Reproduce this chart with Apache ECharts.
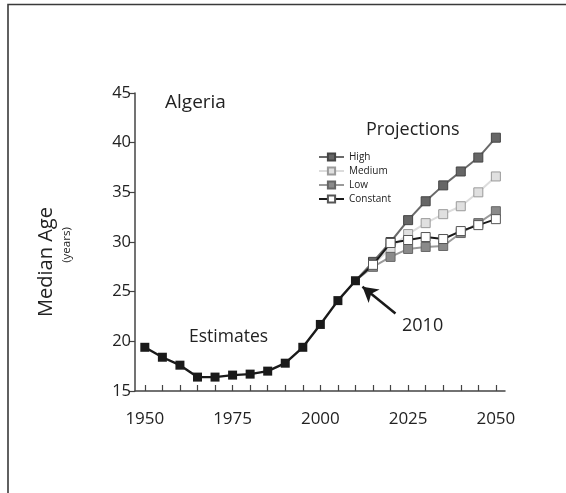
<!DOCTYPE html>
<html>
<head>
<meta charset="utf-8">
<script src="https://cdn.jsdelivr.net/npm/echarts@6/dist/echarts.min.js"></script>
<style>
  html, body { margin: 0; padding: 0; background: #fff; }
  #chart { width: 566px; height: 493px; }
</style>
</head>
<body>
<div id="chart"></div>
<script>
// Median age of Algeria: estimates 1950-2010 and four projection variants to 2050
const estYears = [1950, 1955, 1960, 1965, 1970, 1975, 1980, 1985, 1990, 1995, 2000, 2005, 2010];
const estimates = [19.4, 18.4, 17.6, 16.4, 16.4, 16.6, 16.7, 17.0, 17.8, 19.4, 21.7, 24.1, 26.1];

const projYears = [2015, 2020, 2025, 2030, 2035, 2040, 2045, 2050];
const high     = [28.0, 30.0, 32.2, 34.1, 35.7, 37.1, 38.5, 40.5];
const medium   = [27.7, 29.4, 30.8, 31.9, 32.8, 33.6, 35.0, 36.6];
const low      = [27.5, 28.5, 29.3, 29.5, 29.6, 30.9, 31.9, 33.1];
const constant = [27.7, 29.9, 30.2, 30.5, 30.3, 31.1, 31.7, 32.3];

const xTickYears = [1950, 1955, 1960, 1965, 1970, 1975, 1980, 1985, 1990, 1995, 2000,
                    2005, 2010, 2015, 2020, 2025, 2030, 2035, 2040, 2045, 2050];
const xLabelYears = [1950, 1975, 2000, 2025, 2050];

const FONT = '"Open Sans", "DejaVu Sans", sans-serif';
const baseYear = estYears[estYears.length - 1];
const baseValue = estimates[estimates.length - 1];

// each projection line starts at the last estimate, without a marker there
function projData(values) {
  const out = [{ value: [baseYear, baseValue], symbolSize: 0 }];
  projYears.forEach((y, i) => out.push([y, values[i]]));
  return out;
}

function projSeries(name, values, lineColor, fill, border, z) {
  return {
    name: name,
    type: 'line',
    data: projData(values),
    symbol: 'rect',
    symbolSize: 9,
    z: z,
    lineStyle: { color: lineColor, width: 2 },
    itemStyle: { color: fill, borderColor: border, borderWidth: 1 }
  };
}

const chart = echarts.init(document.getElementById('chart'), null, { renderer: 'canvas' });

chart.setOption({
  animation: false,
  backgroundColor: '#fff',
  grid: { left: 135, right: 61, top: 93, bottom: 102, containLabel: false },
  xAxis: {
    type: 'value',
    min: 1947.2,
    max: 2052.6,
    splitLine: { show: false },
    axisLine: { lineStyle: { color: '#444', width: 1.5 } },
    axisTick: {
      customValues: xTickYears,
      inside: true,
      length: 6,
      lineStyle: { color: '#444', width: 1.2 }
    },
    axisLabel: {
      customValues: xLabelYears,
      margin: 20,
      fontSize: 17,
      color: '#222',
      fontFamily: FONT,
      formatter: v => String(v)
    }
  },
  yAxis: {
    type: 'value',
    min: 15,
    max: 45,
    interval: 5,
    splitLine: { show: false },
    axisLine: { show: true, lineStyle: { color: '#444', width: 1.5 } },
    axisTick: { show: true, length: 6, lineStyle: { color: '#444', width: 1.2 } },
    axisLabel: { margin: 4, fontSize: 16.5, color: '#222', fontFamily: FONT }
  },
  legend: {
    orient: 'vertical',
    left: 318,
    top: 152,
    padding: 0,
    itemWidth: 25,
    itemHeight: 9,
    itemGap: 4,
    data: ['High', 'Medium', 'Low', 'Constant'],
    textStyle: { fontSize: 10, lineHeight: 9, color: '#222', fontFamily: FONT }
  },
  series: [
    projSeries('Medium', medium, '#dcdcdc', '#e0e0e0', '#9a9a9a', 2),
    projSeries('Low', low, '#9a9a9a', '#8a8a8a', '#666', 3),
    projSeries('High', high, '#6a6a6a', '#666', '#444', 4),
    projSeries('Constant', constant, '#1a1a1a', '#fff', '#555', 5),
    {
      name: 'Estimates',
      type: 'line',
      data: estYears.map((y, i) => [y, estimates[i]]),
      symbol: 'rect',
      symbolSize: 9,
      z: 6,
      lineStyle: { color: '#1a1a1a', width: 2.4 },
      itemStyle: { color: '#1a1a1a' },
      markLine: {
        silent: true,
        symbol: ['none', 'arrow'],
        symbolSize: [13, 15],
        label: { show: false },
        lineStyle: { color: '#1a1a1a', width: 2.5, type: 'solid' },
        data: [[{ coord: [2021.4, 22.8] }, { coord: [2012.0, 25.5] }]]
      }
    }
  ],
  graphic: [
    {
      type: 'polyline',
      shape: { points: [[8, 500], [8, 4.5], [575, 4.5]] },
      style: { stroke: '#3a3a3a', lineWidth: 1.6, fill: null }
    },
    {
      type: 'text', x: 165, y: 103,
      style: { text: 'Algeria', fontSize: 19, fill: '#222', fontFamily: FONT, verticalAlign: 'middle' }
    },
    {
      type: 'text', x: 366, y: 130,
      style: { text: 'Projections', fontSize: 18, fill: '#222', fontFamily: FONT, verticalAlign: 'middle' }
    },
    {
      type: 'text', x: 189, y: 337,
      style: { text: 'Estimates', fontSize: 17.5, fill: '#222', fontFamily: FONT, verticalAlign: 'middle' }
    },
    {
      type: 'text', x: 402, y: 326,
      style: { text: '2010', fontSize: 18, fill: '#222', fontFamily: FONT, verticalAlign: 'middle' }
    },
    {
      type: 'text', x: 46, y: 262, rotation: Math.PI / 2,
      style: { text: 'Median Age', fontSize: 20, fill: '#222', fontFamily: FONT,
               align: 'center', verticalAlign: 'middle' }
    },
    {
      type: 'text', x: 67, y: 245, rotation: Math.PI / 2,
      style: { text: '(years)', fontSize: 11.5, fill: '#222', fontFamily: FONT,
               align: 'center', verticalAlign: 'middle' }
    }
  ]
});
</script>
</body>
</html>
